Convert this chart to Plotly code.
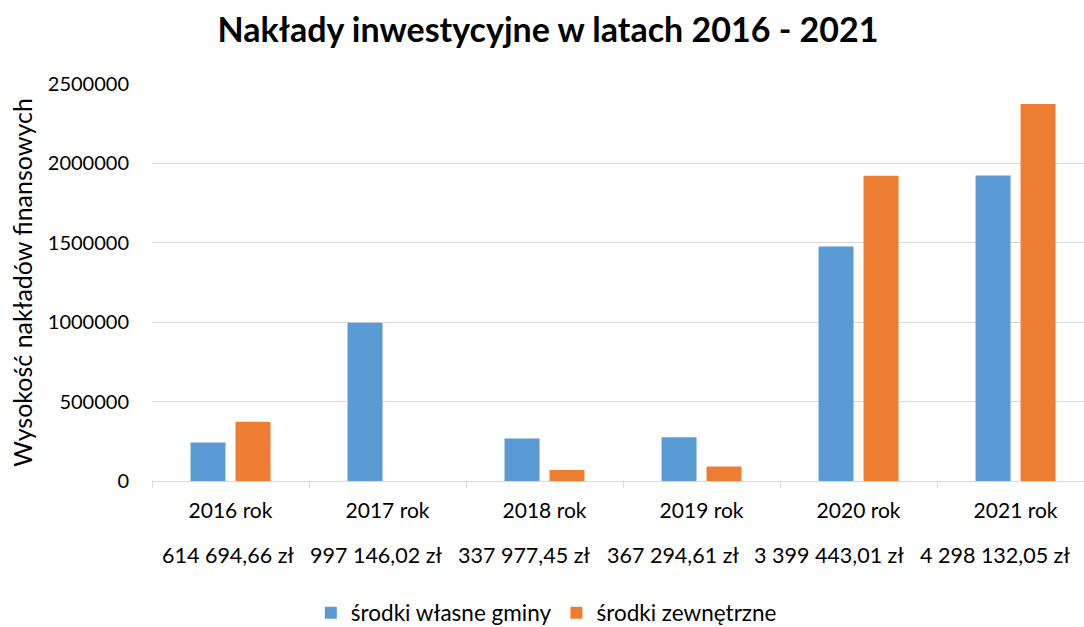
import plotly.graph_objects as go

categories = ["2016 rok", "2017 rok", "2018 rok", "2019 rok", "2020 rok", "2021 rok"]
totals = ["614 694,66 zł", "997 146,02 zł", "337 977,45 zł", "367 294,61 zł",
          "3 399 443,01 zł", "4 298 132,05 zł"]
srodki_wlasne = [242000, 997146, 268000, 275000, 1477000, 1924000]
srodki_zewnetrzne = [373000, 0, 70000, 92000, 1922000, 2374000]
y_ticks = [0, 500000, 1000000, 1500000, 2000000, 2500000]

# style: horizontal nudges (px) of the totals row, as laid out in the original
total_shifts = [-3, -12, -21, -29, -30, -21]

FONT = "Lato"
BLUE = "#5B9BD5"
ORANGE = "#ED7D31"
GRID = "#D9D9D9"

fig = go.Figure()
fig.add_trace(go.Bar(x=categories, y=srodki_wlasne, name="środki własne gminy",
                     marker=dict(color=BLUE, line=dict(width=0))))
fig.add_trace(go.Bar(x=categories, y=srodki_zewnetrzne, name="środki zewnętrzne",
                     marker=dict(color=ORANGE, line=dict(width=0))))

for cat, tot, sh in zip(categories, totals, total_shifts):
    fig.add_annotation(x=cat, y=-0.186, xref="x", yref="paper", text=tot,
                       showarrow=False, yanchor="middle", xanchor="center",
                       xshift=sh,
                       font=dict(family=FONT, size=21.5, color="#000000"))

fig.update_layout(
    width=1084, height=627, autosize=False,
    margin=dict(l=152, r=0, t=84, b=146),
    paper_bgcolor="white", plot_bgcolor="white",
    barmode="group", bargap=0.427, bargroupgap=0.222,
    title=dict(text="<b>Nakłady inwestycyjne w latach 2016 - 2021</b>",
               x=548 / 1084, xanchor="center", xref="container",
               y=1 - 30 / 627, yanchor="middle", yref="container",
               font=dict(family=FONT, size=34, color="#000000")),
    font=dict(family=FONT, size=21, color="#000000"),
    showlegend=True,
    legend=dict(orientation="h", xref="container", yref="container",
                x=0.504, xanchor="center", y=(627 - 613) / 627, yanchor="middle",
                font=dict(family=FONT, size=22.5, color="#000000"),
                itemsizing="constant", traceorder="normal"),
    xaxis=dict(type="category", range=[-0.5, 5.436],
               showgrid=False, showline=True, linecolor=GRID, linewidth=1,
               ticks="outside", tickson="boundaries", ticklen=6, tickcolor=GRID,
               tickfont=dict(family=FONT, size=21, color="#000000"),
               ticklabelstandoff=11, zeroline=False),
    yaxis=dict(range=[0, 2500000], tickvals=y_ticks,
               ticktext=[str(v) for v in y_ticks],
               showgrid=True, gridcolor=GRID, gridwidth=1,
               showline=False, zeroline=False, ticks="",
               tickfont=dict(family=FONT, size=20, color="#000000"),
               ticklabelstandoff=22,
               title=dict(text="Wysokość nakładów finansowych", standoff=8,
                          font=dict(family=FONT, size=25, color="#000000"))),
)

fig.write_html("out.html")
